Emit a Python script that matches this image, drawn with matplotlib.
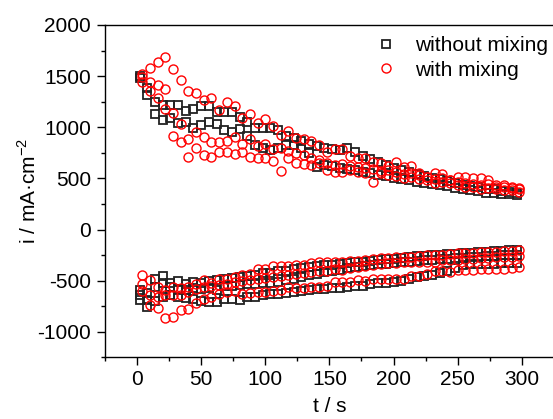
import numpy as np
import matplotlib
matplotlib.use("Agg")
import matplotlib.pyplot as plt
from matplotlib.ticker import MultipleLocator

plt.rcParams['font.family'] = ['Liberation Sans', 'DejaVu Sans']
plt.rcParams['axes.unicode_minus'] = False

# time grids (s)
t_black = [2, 8, 14, 20, 26, 32, 38, 44, 50, 56, 62, 68, 74, 80, 86, 92, 98, 104, 110, 116,
           122, 128, 134, 140, 146, 152, 158, 164, 170, 176, 182, 188, 194, 200, 206, 212, 218, 224, 230, 236,
           242, 248, 254, 260, 266, 272, 278, 284, 290, 296]
t_red = [4, 10, 16, 22, 28, 34, 40, 46, 52, 58, 64, 70, 76, 82, 88, 94, 100, 106, 112, 118,
         124, 130, 136, 142, 148, 154, 160, 166, 172, 178, 184, 190, 196, 202, 208, 214, 220, 226, 232, 238,
         244, 250, 256, 262, 268, 274, 280, 286, 292, 298]

# without mixing, anodic branch (mA/cm2)
bp_hi = [1480, 1316, 1251, 1218, 1218, 1218, 1160, 1180, 1209, 1209, 1153, 1153, 1153, 1100, 1055, 990, 990, 990, 974, 916,
         900, 870, 840, 820, 800, 790, 780, 795, 762, 720, 690, 660, 630, 600, 580, 560, 545, 520, 505, 490,
         475, 455, 440, 430, 415, 400, 395, 380, 371, 356]
bp_lo = [1500, 1380, 1130, 1072, 1089, 1040, 1055, 990, 1023, 1055, 1030, 974, 958, 980, 916, 828, 795, 780, 795, 828,
         828, 795, 747, 616, 630, 620, 600, 590, 580, 565, 550, 535, 520, 505, 495, 480, 470, 460, 450, 440,
         425, 405, 395, 385, 375, 362, 356, 349, 345, 340]
# without mixing, cathodic branch
bn_hi = [-589, -615, -479, -452, -525, -502, -535, -515, -520, -500, -495, -485, -470, -465, -450, -440, -425, -420, -405, -400,
         -385, -380, -365, -360, -350, -345, -335, -330, -320, -315, -305, -300, -290, -285, -278, -270, -262, -258, -250, -245,
         -240, -235, -228, -225, -218, -215, -210, -205, -203, -198]
bn_mid = [-640, -690, -560, -520, -560, -589, -590, -572, -582, -572, -589, -550, -550, -540, -535, -530, -525, -525, -510, -495,
          -482, -460, -443, -430, -415, -400, -390, -380, -370, -360, -350, -340, -335, -325, -320, -312, -305, -300, -295, -290,
          -285, -280, -275, -270, -265, -260, -255, -250, -248, -245]
bn_lo = [-689, -758, -697, -660, -640, -660, -670, -677, -700, -710, -710, -680, -680, -688, -655, -655, -640, -630, -625, -622,
         -610, -600, -590, -585, -580, -575, -573, -560, -550, -550, -535, -525, -525, -515, -500, -480, -466, -453, -440, -420,
         -400, -380, -345, -340, -338, -335, -332, -329, -329, -329]

# with mixing, anodic branch
rp_hi = [1520, 1577, 1636, 1685, 1570, 1463, 1358, 1333, 1267, 1285, 1170, 1245, 1209, 1089, 1128, 1046, 1079, 1016, 925, 967,
         900, 885, 870, 828, 762, 789, 789, 720, 704, 704, 665, 649, 626, 665, 610, 626, 557, 518, 551, 545,
         486, 518, 518, 500, 500, 486, 437, 437, 420, 404]
rp_mid = [1446, 1440, 1414, 1375, 1137, 1033, 883, 958, 909, 860, 860, 870, 909, 835, 885, 820, 835, 785, 800, 770,
          750, 730, 700, 680, 650, 630, 640, 620, 610, 600, 590, 570, 580, 560, 540, 551, 530, 510, 490, 500,
          480, 470, 460, 450, 440, 445, 420, 415, 410, 400]
rp_lo = [1490, 1350, 1284, 1180, 916, 860, 713, 795, 730, 713, 762, 762, 740, 760, 713, 697, 697, 675, 570, 697,
         650, 640, 630, 649, 583, 567, 567, 583, 560, 551, 469, 551, 530, 520, 502, 510, 490, 486, 460, 469,
         455, 437, 420, 420, 395, 410, 395, 390, 385, 371]
# with mixing, cathodic branch
rn_hi = [-443, -492, -564, -589, -557, -572, -557, -535, -492, -518, -482, -479, -463, -446, -430, -385, -385, -360, -360, -355,
         -346, -346, -322, -313, -318, -319, -312, -306, -306, -300, -290, -280, -280, -270, -270, -264, -257, -248, -248, -245,
         -238, -232, -232, -232, -222, -220, -215, -212, -205, -199]
rn_mid = [-600, -640, -660, -640, -640, -640, -610, -580, -560, -550, -540, -530, -515, -500, -490, -480, -470, -460, -455, -445,
          -430, -425, -415, -405, -400, -388, -390, -375, -370, -355, -345, -338, -329, -322, -320, -313, -313, -313, -313, -300,
          -293, -293, -284, -284, -277, -277, -264, -268, -264, -257]
rn_lo = [-531, -736, -762, -866, -850, -785, -778, -720, -677, -655, -625, -609, -600, -630, -615, -609, -609, -600, -590, -564,
         -574, -574, -564, -557, -550, -509, -510, -509, -494, -503, -484, -484, -484, -484, -484, -455, -455, -436, -407, -407,
         -417, -391, -397, -397, -388, -381, -381, -381, -375, -365]

black_traces = [bp_hi, bp_lo, bn_hi, bn_mid, bn_lo]
red_traces = [rp_hi, rp_mid, rp_lo, rn_hi, rn_mid, rn_lo]

fig = plt.figure(figsize=(5.53, 4.19), dpi=100)
ax = fig.add_axes([0.1899, 0.1468, 0.8116, 0.7936])

sq = dict(marker='s', linestyle='none', markersize=5.5, markerfacecolor='none',
          markeredgecolor='#222222', markeredgewidth=1.3)
ci = dict(marker='o', linestyle='none', markersize=6.5, markerfacecolor='none',
          markeredgecolor='red', markeredgewidth=1.0)

for i, y in enumerate(black_traces):
    ax.plot(t_black, y, label='without mixing' if i == 0 else None, **sq)
for i, y in enumerate(red_traces):
    ax.plot(t_red, y, label='with mixing' if i == 0 else None, **ci)

ax.set_xlim(-25, 325)
ax.set_ylim(-1250, 2000)
ax.xaxis.set_major_locator(MultipleLocator(50))
ax.xaxis.set_minor_locator(MultipleLocator(25))
ax.yaxis.set_major_locator(MultipleLocator(500))
ax.yaxis.set_minor_locator(MultipleLocator(250))
ax.tick_params(which='both', direction='out', top=False, right=False, labelsize=15, width=1)
ax.tick_params(which='major', length=6)
ax.tick_params(which='minor', length=3)
ax.tick_params(axis='x', pad=3)
ax.tick_params(axis='y', pad=4)
for s in ax.spines.values():
    s.set_linewidth(1)

ax.set_xlabel('t / s', fontsize=15, labelpad=6)
ax.set_ylabel(r'i / mA·cm$^{\mathregular{-2}}$', fontsize=15, labelpad=-2)

ax.legend(loc='upper right', bbox_to_anchor=(1.013, 1.0), frameon=False, fontsize=15,
          handlelength=1.0, handletextpad=0.9, labelspacing=0.25, borderaxespad=0.15)

fig.savefig('out.png', dpi=100)
